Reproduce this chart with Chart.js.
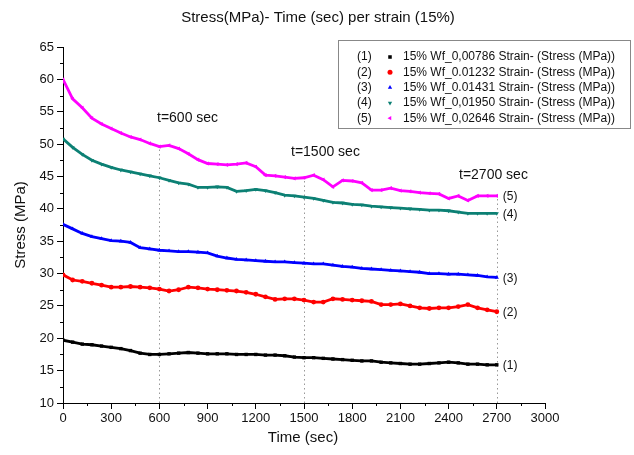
<!DOCTYPE html>
<html>
<head>
<meta charset="utf-8">
<script src="https://cdn.jsdelivr.net/npm/chart.js@4.4.0/dist/chart.umd.min.js"></script>
<style>
html, body { margin: 0; padding: 0; background: #fff; }
#wrap { width: 634px; height: 455px; }
</style>
</head>
<body>
<div id="wrap"><canvas id="chart"></canvas></div>
<script>
// time axis (sec), one reading every 60 s
var time_sec = [0, 60, 120, 180, 240, 300, 360, 420, 480, 540,
    600, 660, 720, 780, 840, 900, 960, 1020, 1080, 1140,
    1200, 1260, 1320, 1380, 1440, 1500, 1560, 1620, 1680, 1740,
    1800, 1860, 1920, 1980, 2040, 2100, 2160, 2220, 2280, 2340,
    2400, 2460, 2520, 2580, 2640, 2700];

// stress (MPa) per strain
var stress_1 = [19.7, 19.4, 19.1, 19.0, 18.8, 18.6, 18.4, 18.1, 17.7, 17.5,
    17.5, 17.6, 17.7, 17.8, 17.7, 17.6, 17.6, 17.6, 17.5, 17.5,
    17.5, 17.4, 17.4, 17.3, 17.1, 17.0, 17.0, 16.9, 16.8, 16.7,
    16.6, 16.5, 16.5, 16.3, 16.2, 16.1, 16.0, 16.0, 16.1, 16.2,
    16.3, 16.2, 16.0, 16.0, 15.9, 15.9];
var stress_2 = [29.8, 29.0, 28.8, 28.5, 28.2, 27.9, 27.9, 28.0, 27.9, 27.8,
    27.6, 27.3, 27.5, 27.9, 27.8, 27.6, 27.5, 27.4, 27.3, 27.1,
    26.8, 26.4, 26.0, 26.1, 26.1, 25.9, 25.6, 25.6, 26.1, 26.0,
    25.9, 25.8, 25.7, 25.2, 25.2, 25.3, 25.0, 24.7, 24.6, 24.7,
    24.7, 24.9, 25.2, 24.7, 24.4, 24.1];
var stress_3 = [37.6, 36.9, 36.2, 35.7, 35.4, 35.1, 35.0, 34.8, 34.0, 33.8,
    33.6, 33.5, 33.4, 33.4, 33.3, 33.2, 32.7, 32.4, 32.2, 32.1,
    32.0, 31.9, 31.8, 31.8, 31.7, 31.6, 31.5, 31.5, 31.3, 31.1,
    31.0, 30.8, 30.7, 30.6, 30.5, 30.4, 30.3, 30.2, 30.0, 30.0,
    29.9, 29.9, 29.8, 29.7, 29.5, 29.4];
var stress_4 = [50.8, 49.5, 48.4, 47.5, 46.9, 46.4, 46.0, 45.7, 45.4, 45.1,
    44.8, 44.4, 44.0, 43.8, 43.3, 43.3, 43.4, 43.3, 42.7, 42.8,
    43.0, 42.8, 42.5, 42.1, 42.0, 41.8, 41.6, 41.3, 41.0, 40.9,
    40.7, 40.6, 40.4, 40.3, 40.2, 40.1, 40.0, 39.9, 39.8, 39.8,
    39.7, 39.5, 39.3, 39.3, 39.3, 39.3];
var stress_5 = [60.0, 57.0, 55.6, 54.0, 53.1, 52.4, 51.7, 51.1, 50.7, 50.1,
    49.6, 49.8, 49.3, 48.5, 47.6, 47.0, 46.9, 46.8, 46.9, 47.1,
    46.5, 45.2, 45.1, 44.9, 44.7, 44.8, 45.2, 44.5, 43.4, 44.4,
    44.3, 44.0, 42.9, 42.9, 43.2, 42.8, 42.7, 42.5, 42.4, 42.3,
    41.6, 42.0, 41.3, 42.0, 42.0, 42.0];

var series_labels = ["15% Wf_0,00786 Strain- (Stress (MPa))",
    "15% Wf_0.01232 Strain- (Stress (MPa))",
    "15% Wf_0.01431 Strain- (Stress (MPa))",
    "15% Wf_0,01950 Strain- (Stress (MPa))",
    "15% Wf_0,02646 Strain- (Stress (MPa))"];
var series_tags = ["(1)", "(2)", "(3)", "(4)", "(5)"];
var marked_times = [600, 1500, 2700];
var marked_labels = ["t=600 sec", "t=1500 sec", "t=2700 sec"];

var FONT = "'Liberation Sans', Arial, sans-serif";

function toPoints(ys) {
    return ys.map(function(y, i) { return { x: time_sec[i], y: y }; });
}

var colors = ["#000000", "#ff0000", "#0000ff", "#0c8074", "#ff00ff"];
var styles = ["rect", "circle", "triangle", "triangle", "triangle"];
var rotations = [0, 0, 0, 180, 270];
var all_series = [stress_1, stress_2, stress_3, stress_4, stress_5];

var datasets = all_series.map(function(ys, i) {
    return {
        label: series_labels[i],
        data: toPoints(ys),
        borderColor: colors[i],
        backgroundColor: colors[i],
        borderWidth: 2.8,
        pointStyle: styles[i],
        rotation: rotations[i],
        pointRadius: 2.4,
        pointBorderWidth: 0,
        tension: 0,
    };
});

var overlay = {
    id: "overlay",
    beforeDatasetsDraw: function(chart) {
        var ctx = chart.ctx;
        var xs = chart.scales.x, ys = chart.scales.y;
        ctx.save();
        ctx.strokeStyle = "#999";
        ctx.lineWidth = 1;
        ctx.setLineDash([1.5, 3]);
        marked_times.forEach(function(t) {
            var idx = time_sec.indexOf(t);
            var px = Math.round(xs.getPixelForValue(t)) + 0.5;
            ctx.beginPath();
            ctx.moveTo(px, ys.bottom);
            ctx.lineTo(px, ys.getPixelForValue(stress_5[idx]));
            ctx.stroke();
        });
        ctx.restore();
    },
    afterDraw: function(chart) {
        var ctx = chart.ctx;
        var xs = chart.scales.x, ys = chart.scales.y;
        ctx.save();

        // minor ticks
        ctx.strokeStyle = "#000";
        ctx.lineWidth = 1;
        for (var t = 150; t < 3000; t += 300) {
            var px = Math.round(xs.getPixelForValue(t)) + 0.5;
            ctx.beginPath();
            ctx.moveTo(px, ys.bottom);
            ctx.lineTo(px, ys.bottom + 3);
            ctx.stroke();
        }
        for (var v = 12.5; v < 65; v += 5) {
            var py = Math.round(ys.getPixelForValue(v)) + 0.5;
            ctx.beginPath();
            ctx.moveTo(xs.left, py);
            ctx.lineTo(xs.left - 3, py);
            ctx.stroke();
        }

        // titles
        ctx.fillStyle = "#111";
        ctx.textAlign = "center";
        ctx.textBaseline = "middle";
        ctx.font = "15px " + FONT;
        ctx.fillText("Stress(MPa)- Time (sec) per strain (15%)", 318, 18);
        ctx.fillText("Time (sec)", 303, 438);
        ctx.save();
        ctx.translate(21, 225);
        ctx.rotate(-Math.PI / 2);
        ctx.fillText("Stress (MPa)", 0, 0);
        ctx.restore();

        // time annotations
        ctx.font = "14px " + FONT;
        ctx.textAlign = "left";
        ctx.fillText(marked_labels[0], 157, 118);
        ctx.fillText(marked_labels[1], 291, 152);
        ctx.fillText(marked_labels[2], 459, 175);

        // end tags
        ctx.font = "12px " + FONT;
        all_series.forEach(function(s, i) {
            var last = s.length - 1;
            ctx.fillText(series_tags[i], xs.getPixelForValue(time_sec[last]) + 6, ys.getPixelForValue(s[last]) + 1);
        });

        // legend box
        ctx.strokeStyle = "#888";
        ctx.lineWidth = 1;
        ctx.strokeRect(338.5, 40.5, 292, 88);
        ctx.font = "12px " + FONT;
        for (var i = 0; i < 5; i++) {
            var ly = 57 + i * 15.3;
            ctx.fillStyle = "#111";
            ctx.fillText(series_tags[i], 357, ly);
            ctx.fillStyle = colors[i];
            ctx.strokeStyle = colors[i];
            Chart.helpers.drawPoint(ctx, { pointStyle: styles[i], rotation: rotations[i], radius: 2.5, borderWidth: 0 }, 390, ly);
            ctx.fillStyle = "#111";
            ctx.fillText(series_labels[i], 403, ly);
        }
        ctx.restore();
    }
};

var ctx = document.getElementById("chart").getContext("2d");
var myChart = new Chart(ctx, {
    type: "line",
    data: { datasets: datasets },
    options: {
        responsive: true,
        maintainAspectRatio: false,
        animation: false,
        layout: { padding: { left: 0, top: 47, right: 89, bottom: 0 } },
        plugins: {
            legend: { display: false },
            title: { display: false },
            tooltip: { enabled: false },
        },
        scales: {
            x: {
                type: "linear",
                min: 0,
                max: 3000,
                afterFit: function(scale) { scale.height = 52; },
                ticks: {
                    stepSize: 300, color: "#111", font: { size: 13, family: FONT }, padding: 2, maxRotation: 0,
                    callback: function(value) { return String(value); }
                },
                grid: { drawOnChartArea: false, drawTicks: true, tickLength: 6, color: "#000" },
                border: { display: true, color: "#000", width: 1 },
            },
            y: {
                min: 10,
                max: 65,
                afterFit: function(scale) { scale.width = 63; },
                ticks: { stepSize: 5, color: "#111", font: { size: 13, family: FONT }, padding: 3 },
                grid: { drawOnChartArea: false, drawTicks: true, tickLength: 6, color: "#000" },
                border: { display: true, color: "#000", width: 1 },
            },
        },
    },
    plugins: [overlay],
});
</script>
</body>
</html>
